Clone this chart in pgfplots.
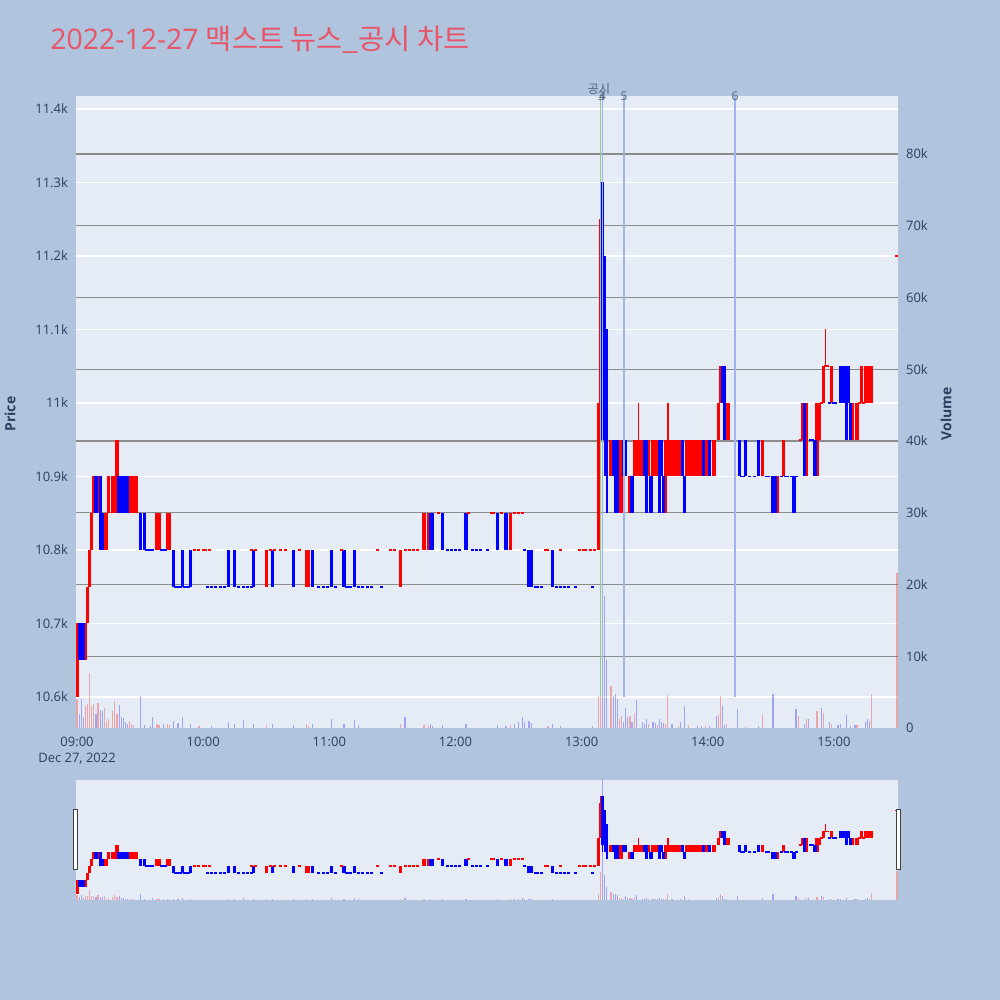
\documentclass[border=0pt]{standalone}
\usepackage{fontspec}
\setmainfont{Open Sans}
\newfontfamily\kr{Noto Sans CJK KR}
\usepackage{pgfplots}
\usepackage{pgfplotstable}
\pgfplotsset{compat=1.18}
\definecolor{pagebg}{HTML}{B0C4DE}
\definecolor{plotbg}{HTML}{E5ECF6}
\definecolor{fontc}{HTML}{2A3F5F}
\definecolor{titlec}{RGB}{232,84,104}
\definecolor{gridg}{RGB}{140,140,140}
\definecolor{vgreen}{RGB}{140,205,140}
\definecolor{vblue}{RGB}{160,178,240}
\definecolor{annc}{RGB}{80,100,125}

% red (rising) candle bodies
\pgfplotstableread{
t lo hi
0 10600 10700
4 10650 10700
5 10700 10750
6 10750 10800
7 10800 10850
8 10850 10900
10 10850 10900
13 10800 10850
14 10800 10850
15 10850 10900
17 10850 10900
18 10850 10900
19 10850 10950
25 10850 10900
26 10850 10900
27 10850 10900
28 10850 10900
38 10800 10850
39 10800 10850
43 10800 10850
44 10800 10850
90 10750 10800
109 10750 10800
110 10750 10800
154 10750 10800
165 10800 10850
167 10800 10850
206 10800 10850
248 10800 11000
249 11000 11250
254 10900 10950
258 10850 10950
259 10850 10950
263 10850 10900
265 10900 10950
266 10900 10950
267 10900 10950
268 10900 10950
269 10900 10950
272 10900 10950
274 10900 10950
275 10900 10950
276 10900 10950
280 10850 10950
281 10900 10950
282 10900 10950
283 10900 10950
284 10900 10950
285 10900 10950
286 10900 10950
287 10900 10950
290 10900 10950
291 10900 10950
292 10900 10950
293 10900 10950
294 10900 10950
295 10900 10950
296 10900 10950
297 10900 10950
299 10900 10950
300 10900 10950
303 10900 10950
305 10950 11000
306 11000 11050
309 10950 11000
310 10950 11000
326 10900 10950
333 10850 10900
336 10900 10950
345 10950 11000
347 10900 11000
352 10900 11000
353 10950 11000
355 11000 11050
359 11000 11050
369 10950 11000
371 10950 11000
373 11000 11050
375 11000 11050
376 11000 11050
377 11000 11050
378 11000 11050
}\upbody

% blue (falling) candle bodies
\pgfplotstableread{
t lo hi
1 10650 10700
2 10650 10700
3 10650 10700
9 10850 10900
11 10800 10900
12 10800 10850
20 10850 10900
21 10850 10900
22 10850 10900
23 10850 10900
24 10850 10900
30 10800 10850
32 10800 10850
46 10750 10800
50 10750 10800
54 10750 10800
72 10750 10800
75 10750 10800
84 10750 10800
93 10750 10800
103 10750 10800
112 10750 10800
121 10750 10800
127 10750 10800
132 10750 10800
168 10800 10850
169 10800 10850
174 10800 10850
185 10800 10850
200 10800 10850
204 10800 10850
215 10750 10800
216 10750 10800
226 10750 10800
250 10950 11300
251 10950 11200
252 10950 11100
255 10900 10950
256 10900 10950
257 10850 10950
260 10900 10950
261 10900 10950
264 10850 10900
270 10900 10950
271 10850 10950
273 10850 10900
277 10850 10950
278 10900 10950
279 10850 10900
288 10900 10950
289 10850 10900
298 10900 10950
301 10900 10950
307 11000 11050
308 10950 11050
315 10900 10950
318 10900 10950
324 10900 10950
331 10850 10900
332 10850 10900
341 10850 10900
346 10900 11000
351 10900 10950
363 11000 11050
364 11000 11050
365 11000 11050
366 10950 11050
367 11000 11050
368 10950 11000
}\dnbody

\pgfplotstableread{
t lo hi
249 11250 11300
267 10950 11000
281 10950 11000
356 11050 11100
}\upwick

\pgfplotstableread{
t lo hi
250 10900 10950
251 10900 10950
252 10850 10950
256 10850 10900
}\dnwick

% flat candles (open = close)
\pgfplotstableread{
t p
56 10800
58 10800
60 10800
61 10800
63 10800
83 10800
85 10800
92 10800
94 10800
97 10800
99 10800
106 10800
126 10800
143 10800
149 10800
151 10800
156 10800
158 10800
160 10800
162 10800
172 10850
186 10850
197 10850
198 10850
202 10850
208 10850
210 10850
212 10850
223 10800
224 10800
230 10800
239 10800
241 10800
242 10800
244 10800
246 10800
344 10950
354 11000
356 11050
357 11050
372 11000
374 11000
390 11200
}\dojiR

\pgfplotstableread{
t p
33 10800
34 10800
35 10800
36 10800
40 10800
41 10800
42 10800
47 10750
48 10750
49 10750
51 10750
52 10750
53 10750
62 10750
64 10750
66 10750
68 10750
70 10750
77 10750
79 10750
81 10750
83 10750
115 10750
117 10750
119 10750
123 10750
128 10750
129 10750
130 10750
134 10750
136 10750
138 10750
140 10750
145 10750
176 10800
178 10800
180 10800
182 10800
188 10800
190 10800
192 10800
195 10800
213 10800
218 10750
219 10750
221 10750
228 10750
230 10750
232 10750
234 10750
237 10750
245 10750
316 10900
317 10900
320 10900
322 10900
328 10900
329 10900
335 10900
337 10900
338 10900
340 10900
342 10900
349 10950
350 10950
358 11000
360 11000
361 11000
}\dojiB

% volumes
\pgfplotstableread{
t v
0 4000
4 3000
5 3300
6 7700
7 3000
8 3300
10 3500
13 2800
14 1000
15 1200
17 2300
18 3700
19 2000
25 1000
26 600
27 400
38 500
39 400
43 600
44 400
58 300
90 400
109 500
110 300
154 600
165 400
167 300
206 400
224 300
248 4400
249 20600
254 5800
258 1200
259 1700
263 1700
265 2100
272 500
276 400
280 600
281 4600
286 300
291 400
299 300
305 1800
306 4500
309 500
326 1800
343 1700
347 1200
352 2300
355 2100
359 500
371 400
378 4800
390 21600
}\volR

\pgfplotstableread{
t v
1 2000
2 4000
3 1500
9 2000
11 2500
12 2300
20 3200
21 1600
22 1400
23 800
24 500
30 4400
32 400
35 300
36 1600
41 500
46 1000
48 700
50 1600
54 500
64 300
72 800
75 600
79 1100
84 600
93 500
103 400
112 600
121 1200
127 500
132 1100
134 400
156 1500
168 500
169 300
174 400
185 500
200 400
204 300
208 500
210 800
212 1500
213 900
215 1000
216 700
226 500
230 300
245 300
250 100000
251 18400
252 9500
255 4400
256 4700
257 4000
260 900
261 2800
262 1600
264 800
266 3900
269 800
270 500
271 1300
274 800
275 700
277 1300
278 800
279 700
283 500
287 900
289 3000
295 300
297 300
301 300
304 1700
307 3000
308 400
314 2700
318 200
324 300
331 4700
342 2600
346 600
348 1300
354 2800
358 900
362 400
363 500
366 1800
368 300
370 400
375 900
376 1300
377 1000
}\volB

\pgfplotsset{
  base/.style={scale only axis, width=411pt, xmin=-0.5, xmax=390.5,
    axis line style={draw=none}, tick style={draw=none}, major tick length=0pt,
    scaled ticks=false,
    ticklabel style={font=\fontsize{6.5}{8}\selectfont, text=fontc}},
  body/.style={draw=none, mark=none, forget plot, error bars/.cd, y dir=plus, y explicit,
    error mark=none, error bar style={draw=#1, line width=1.6pt}},
  wick/.style={draw=none, mark=none, forget plot, error bars/.cd, y dir=plus, y explicit,
    error mark=none, error bar style={draw=#1, line width=0.8pt}},
  doji/.style={only marks, mark=-, mark size=0.75pt, mark options={draw=#1, line width=0.8pt}, forget plot},
  vol/.style={ycomb, draw=#1, draw opacity=0.3, line width=0.6pt, mark=none, forget plot},
}

\newcommand\drawcandles{%
  \addplot[wick=red] table[x=t, y=lo, y error expr=\thisrow{hi}-\thisrow{lo}] {\upwick};
  \addplot[wick=blue] table[x=t, y=lo, y error expr=\thisrow{hi}-\thisrow{lo}] {\dnwick};
  \addplot[body=red] table[x=t, y=lo, y error expr=\thisrow{hi}-\thisrow{lo}] {\upbody};
  \addplot[body=blue] table[x=t, y=lo, y error expr=\thisrow{hi}-\thisrow{lo}] {\dnbody};
  \addplot[doji=red] table[x=t, y=p] {\dojiR};
  \addplot[doji=blue] table[x=t, y=p] {\dojiB};
}
\newcommand\drawvolume{%
  \addplot[vol=red] table[x=t, y=v] {\volR};
  \addplot[vol=blue] table[x=t, y=v] {\volB};
}

\begin{document}
\begin{tikzpicture}
\path[use as bounding box, fill=pagebg] (0,0) rectangle (500pt,500pt);

% ---- main chart: background and price grid
\begin{axis}[base, height=316pt, at={(38pt,136pt)}, anchor=south west,
  ymin=10557.8, ymax=11417.7,
  axis background/.style={fill=plotbg},
  ytick={10600,10700,10800,10900,11000,11100,11200,11300,11400},
  yticklabels={10.6k,10.7k,10.8k,10.9k,11k,11.1k,11.2k,11.3k,11.4k},
  ymajorgrids, major grid style={white, line width=0.6pt},
  xtick={0,60,120,180,240,300,360},
  xticklabels={{09:00\\Dec 27, 2022},10:00,11:00,12:00,13:00,14:00,15:00},
  xticklabel style={align=center, yshift=-1pt},
  yticklabel style={xshift=-0.5pt}]
\end{axis}

% ---- volume axis
\begin{axis}[base, height=316pt, at={(38pt,136pt)}, anchor=south west,
  ymin=0, ymax=88080, xtick=\empty,
  ytick={10000,20000,30000,40000,50000,60000,70000,80000},
  yticklabels={10k,20k,30k,40k,50k,60k,70k,80k},
  extra y ticks={0}, extra y tick labels={0}, extra y tick style={grid=none},
  yticklabel pos=right,
  ymajorgrids, major grid style={gridg, line width=0.6pt},
  yticklabel style={xshift=0.5pt}]
\drawvolume
\end{axis}

% ---- candles
\begin{axis}[base, height=316pt, at={(38pt,136pt)}, anchor=south west,
  ymin=10557.8, ymax=11417.7, hide axis]
\drawcandles
\addplot[vgreen, line width=0.6pt, forget plot] coordinates {(248.8,10600) (248.8,11417.7)};
\addplot[vblue, line width=0.6pt, forget plot] coordinates {(250,10600) (250,11417.7)};
\addplot[vblue, line width=0.6pt, forget plot] coordinates {(260.2,10600) (260.2,11417.7)};
\addplot[vblue, line width=0.6pt, forget plot] coordinates {(313,10600) (313,11417.7)};
\end{axis}

% ---- range slider
\begin{axis}[base, height=60pt, at={(38pt,50pt)}, anchor=south west,
  ymin=0, ymax=88080, xtick=\empty, ytick=\empty,
  axis background/.style={fill=plotbg}]
\drawvolume
\end{axis}
\begin{axis}[base, height=60pt, at={(38pt,50pt)}, anchor=south west,
  ymin=10557.8, ymax=11417.7, hide axis]
\drawcandles
\end{axis}
\draw[fill=white, draw=black!75, line width=0.5pt] (36.7pt,65pt) rectangle (38.7pt,95pt);
\draw[fill=white, draw=black!75, line width=0.5pt] (448.3pt,65pt) rectangle (450.3pt,95pt);

% ---- texts
\node[anchor=west, text=titlec, font=\fontsize{14.2}{16}\selectfont, inner sep=0pt] at (25pt,480pt) {2022-12-27 {\kr 맥스트 뉴스\_공시 차트}};
\node[rotate=90, text=fontc, font=\bfseries\fontsize{7}{8}\selectfont] at (5pt,293pt) {Price};
\node[rotate=90, text=fontc, font=\bfseries\fontsize{7}{8}\selectfont] at (473pt,293pt) {Volume};
\node[text=annc, font=\kr\fontsize{6}{7}\selectfont, inner sep=0pt] at (299.5pt,455.5pt) {공시};
\node[text=annc, font=\fontsize{6}{7}\selectfont, inner sep=0pt] at (300.8pt,452pt) {3};
\node[text=annc, font=\fontsize{6}{7}\selectfont, inner sep=0pt] at (301.3pt,452pt) {4};
\node[text=annc, font=\fontsize{6}{7}\selectfont, inner sep=0pt] at (312pt,452pt) {5};
\node[text=annc, font=\fontsize{6}{7}\selectfont, inner sep=0pt] at (367.5pt,452pt) {6};
\end{tikzpicture}
\end{document}
